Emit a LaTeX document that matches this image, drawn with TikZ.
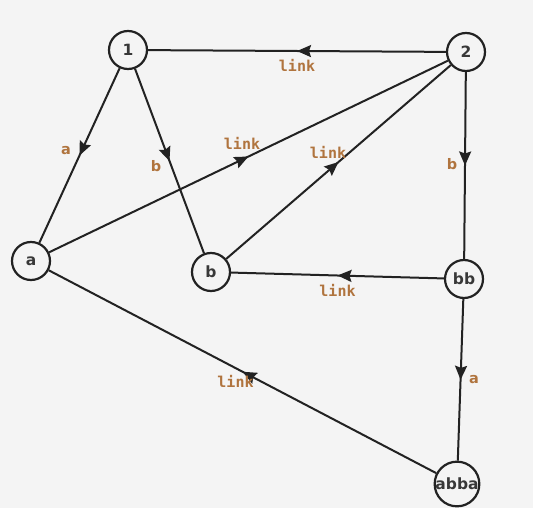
\documentclass[tikz,border=0pt]{standalone}
\usepackage{fontspec}
\setmainfont{DejaVu Sans}
\newfontfamily\lblmono{DejaVu Sans Mono}
\usetikzlibrary{arrows.meta,decorations.markings}
\definecolor{bg}{HTML}{F4F4F4}
\definecolor{ink}{HTML}{222222}
\definecolor{lbl}{HTML}{B0743E}
\tikzset{
  st/.style={circle,draw=ink,line width=2.2pt,fill=bg,minimum size=38pt,inner sep=0pt,
    font=\bfseries\fontsize{15.5}{17}\selectfont,text=ink!90},
  edge/.style={draw=ink,line width=2pt,
    postaction={decorate},
    decoration={markings,mark=at position 0.5 with {\arrow{Stealth[length=14pt,width=12pt,inset=2pt]}}}},
  ml/.style={font=\lblmono\bfseries\fontsize{15}{17}\selectfont,text=lbl},
  sl/.style={font=\bfseries\fontsize{14.5}{16}\selectfont,text=lbl},
}
\begin{document}
\begin{tikzpicture}[x=1pt,y=-1pt]
\fill[bg] (0,0) rectangle (533,508);
\useasboundingbox (0,0) rectangle (533,508);
\node[st] (n1) at (128,50) {1};
\node[st] (n2) at (466,52) {2};
\node[st] (na) at (31,261) {a};
\node[st] (nb) at (211,272) {b};
\node[st] (nbb) at (464,279) {bb};
\node[st] (nabba) at (457,484) {abba};
\path[edge] (n2) -- (n1) node[pos=0.5,ml,yshift=-14pt] {link};
\path[edge] (n1) -- (na) node[pos=0.5,sl,xshift=-13.5pt,yshift=4.5pt] {a};
\path[edge] (n1) -- (nb) node[pos=0.5,sl,xshift=-13.5pt,yshift=-5pt] {b};
\path[edge] (na) -- (n2) node[pos=0.5,ml,xshift=-6.5pt,yshift=13.5pt] {link};
\path[edge] (nb) -- (n2) node[pos=0.5,ml,xshift=-10.5pt,yshift=10pt] {link};
\path[edge] (n2) -- (nbb) node[pos=0.5,sl,xshift=-13pt,yshift=1.5pt] {b};
\path[edge] (nbb) -- (nb) node[pos=0.5,ml,yshift=-14.5pt] {link};
\path[edge] (nbb) -- (nabba) node[pos=0.5,sl,xshift=13.5pt] {a};
\path[edge] (nabba) -- (na) node[pos=0.5,ml,xshift=-7pt,yshift=-9.5pt] {link};
\end{tikzpicture}
\end{document}
